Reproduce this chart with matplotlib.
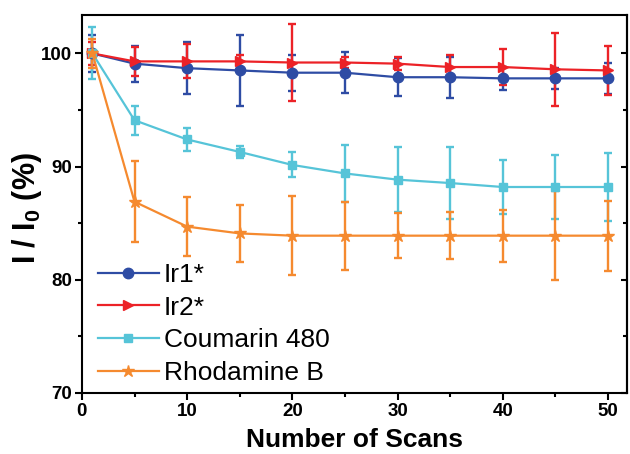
import numpy as np
import matplotlib
matplotlib.use('Agg')
import matplotlib.pyplot as plt
from matplotlib.ticker import MultipleLocator

plt.rcParams['font.family'] = ['Liberation Sans', 'DejaVu Sans']
plt.rcParams['mathtext.fontset'] = 'custom'
plt.rcParams['mathtext.rm'] = 'Liberation Sans'
plt.rcParams['mathtext.bf'] = 'Liberation Sans:bold'

# Data
scans = [1, 5, 10, 15, 20, 25, 30, 35, 40, 45, 50]

ir1 = [100, 99.1, 98.7, 98.5, 98.3, 98.3, 97.9, 97.9, 97.8, 97.8, 97.8]
ir1_err = [1.6, 1.6, 2.3, 3.1, 1.6, 1.8, 1.7, 1.8, 1.0, 0.9, 1.35]

ir2 = [100, 99.3, 99.3, 99.3, 99.2, 99.2, 99.1, 98.8, 98.8, 98.6, 98.5]
ir2_err = [1.0, 1.3, 1.5, 0.6, 3.4, 0.5, 0.6, 1.1, 1.6, 3.2, 2.2]

coumarin = [100, 94.1, 92.4, 91.3, 90.15, 89.4, 88.85, 88.55, 88.2, 88.2, 88.2]
coumarin_err = [2.3, 1.3, 1.0, 0.5, 1.1, 2.5, 2.85, 3.2, 2.4, 2.8, 3.0]

rhodamine = [100, 86.9, 84.7, 84.1, 83.9, 83.9, 83.9, 83.9, 83.9, 83.9, 83.9]
rhodamine_err = [1.3, 3.6, 2.6, 2.55, 3.5, 3.0, 2.0, 2.05, 2.3, 3.95, 3.1]

labels = ['Ir1*', 'Ir2*', 'Coumarin 480', 'Rhodamine B']
colors = ['#2e4ca4', '#ec2227', '#56c4d8', '#f58a2f']
markers = ['o', '>', 's', '*']
msizes = [7.5, 7.5, 6, 9]

fig = plt.figure(figsize=(6.3, 4.54), dpi=100)
ax = fig.add_axes([0.130, 0.1344, 0.865, 0.8326])

handles = []
for y, e, c, m, ms, lab in zip([ir1, ir2, coumarin, rhodamine],
                               [ir1_err, ir2_err, coumarin_err, rhodamine_err],
                               colors, markers, msizes, labels):
    cont = ax.errorbar(scans, y, yerr=e, color=c, marker=m, markersize=ms,
                       linewidth=1.6, elinewidth=1.7, capsize=3.2, capthick=1.7,
                       label=lab)
    handles.append(cont.lines[0])

ax.set_xlim(0, 51.8)
ax.set_ylim(70, 103.4)
ax.xaxis.set_major_locator(MultipleLocator(10))
ax.xaxis.set_minor_locator(MultipleLocator(5))
ax.yaxis.set_major_locator(MultipleLocator(10))
ax.yaxis.set_minor_locator(MultipleLocator(5))

for sp in ax.spines.values():
    sp.set_linewidth(1.5)

ax.tick_params(axis='both', which='major', direction='out', length=5, width=1.5,
               labelsize=13.5, pad=2)
ax.tick_params(axis='both', which='minor', direction='out', length=3, width=1.5)
for t in ax.get_xticklabels() + ax.get_yticklabels():
    t.set_fontweight('bold')

sec = ax.secondary_yaxis('right')
sec.yaxis.set_major_locator(MultipleLocator(10))
sec.yaxis.set_minor_locator(MultipleLocator(5))
sec.tick_params(which='major', direction='in', length=4, width=1.5, labelright=False)
sec.tick_params(which='minor', direction='in', length=3, width=1.5)
sec.spines['right'].set_linewidth(1.5)

ax.set_xlabel('Number of Scans', fontsize=19, fontweight='bold', labelpad=6)
ax.set_ylabel(r'I / I$_\mathbf{0}$ (%)', fontsize=22, fontweight='bold')
ax.yaxis.set_label_coords(-0.069, 0.49)

ax.legend(handles, labels, loc='lower left', bbox_to_anchor=(0.015, 0.0),
          frameon=False, fontsize=19, handlelength=2.3, handletextpad=0.2,
          labelspacing=0.33, borderaxespad=0.2, borderpad=0.1)

fig.savefig('out.png', dpi=100)
